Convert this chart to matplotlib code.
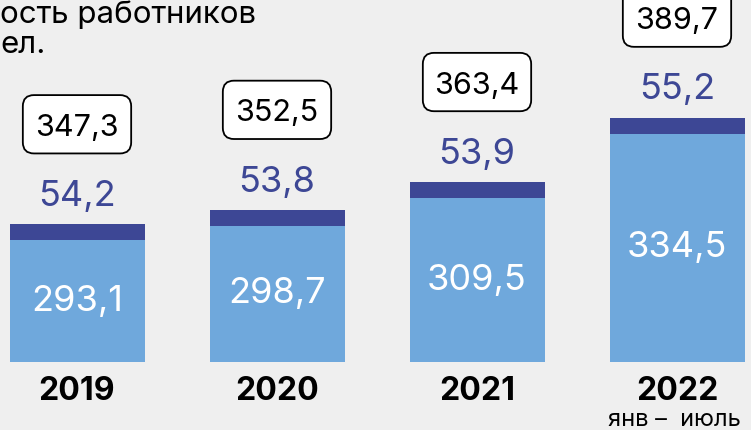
import matplotlib.pyplot as plt
from matplotlib.patches import FancyBboxPatch
from matplotlib.transforms import Affine2D, ScaledTranslation

years = ["2019", "2020", "2021", "2022"]
base_vals = [293.1, 298.7, 309.5, 334.5]
extra_vals = [54.2, 53.8, 53.9, 55.2]
totals = [347.3, 352.5, 363.4, 389.7]
base_labels = ["293,1", "298,7", "309,5", "334,5"]
extra_labels = ["54,2", "53,8", "53,9", "55,2"]
total_labels = ["347,3", "352,5", "363,4", "389,7"]

bg = "#efefef"
light = "#6fa8dc"
dark = "#3d4795"

plt.rcParams['font.family'] = ['Inter', 'DejaVu Sans']

fig = plt.figure(figsize=(7.51, 4.30), dpi=100, facecolor=bg)
ax = fig.add_axes([0, 0, 1, 1])
ax.set_facecolor(bg)

# chart is not drawn to scale in the source; a cut-off axis gets close
bottom = 245.8
cap = 6.2  # thin dark strip on top of each bar
x = range(len(years))

ax.bar(x, [v - bottom for v in base_vals], bottom=bottom, width=0.675, color=light)
ax.bar(x, cap, bottom=base_vals, width=0.675, color=dark)

pt = Affine2D().scale(fig.dpi / 72)  # box size given in points

for i in x:
    top = base_vals[i] + cap
    ax.text(i, (base_vals[i] + bottom) / 2, base_labels[i], ha='center', va='center',
            color='white', fontsize=26)
    ax.annotate(extra_labels[i], (i, top), xytext=(0, 20), textcoords='offset points',
                ha='center', va='center', color=dark, fontsize=26)
    # rounded box anchored on the bar top, 72pt above it
    box = FancyBboxPatch((-39, 51), 78, 42, boxstyle='round,pad=0,rounding_size=8',
                         fc='white', ec='black', lw=1.3,
                         transform=pt + ScaledTranslation(i, top, ax.transData))
    ax.add_patch(box)
    ax.annotate(total_labels[i], (i, top), xytext=(0, 69.5), textcoords='offset points',
                ha='center', va='center', color='black', fontsize=22)
    ax.annotate(years[i], (i, bottom), xytext=(0, -21), textcoords='offset points',
                ha='center', va='center', color='black', fontsize=23, fontweight='bold')

ax.annotate("янв –  июль", (3, bottom), xytext=(-2, -42), textcoords='offset points',
            ha='center', va='center', color='black', fontsize=17)

ax.text(0, 430 - 23, "ость работников", transform=None, ha='left',
        va='baseline', fontsize=22.5)
ax.text(0, 430 - 53, "ел.", transform=None, ha='left',
        va='baseline', fontsize=22.5)

ax.set_xlim(-0.385, 3.37)
ax.set_ylim(219.4, 386.4)
ax.axis('off')

fig.savefig("out.png", dpi=100, facecolor=bg)
